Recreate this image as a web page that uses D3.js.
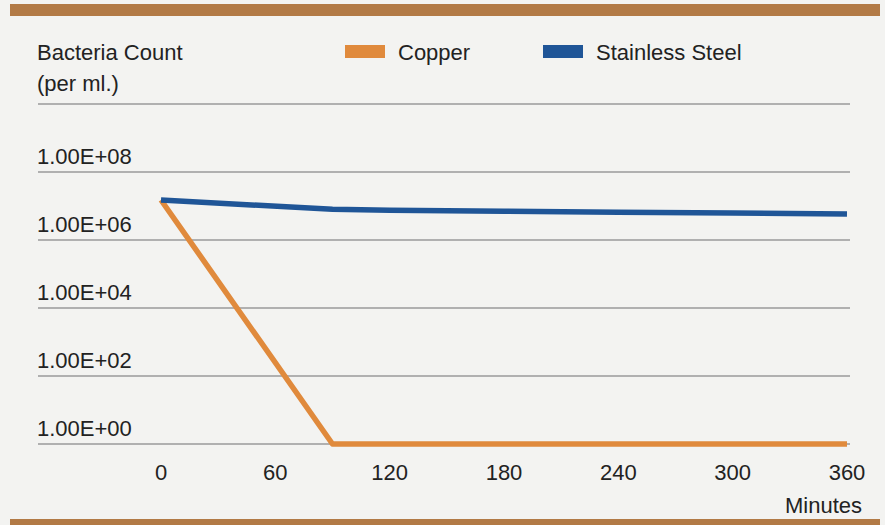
<!DOCTYPE html>
<html lang="en">
<head>
    <meta charset="UTF-8">
    <title>Bacteria Count: Copper vs Stainless Steel</title>
    <script src="https://d3js.org/d3.v7.min.js"></script>
    <style>
        body { margin: 0; background: #f3f3f1; }
        svg { display: block; }
        text { font-family: "Liberation Sans", Arial, sans-serif; fill: #222; font-size: 22px; }
        .grid line { stroke: #9a9a9a; stroke-width: 1.3px; }
        .line { fill: none; stroke-width: 5.5px; stroke-linejoin: round; }
    </style>
</head>
<body>
<svg id="chart" width="885" height="525"></svg>
<script>
    // data
    const minutes = [0, 90, 120, 180, 240, 300, 360];
    const copper = [1.5e7, 1, 1, 1, 1, 1, 1];
    const stainless = [1.5e7, 8e6, 7.5e6, 7e6, 6.6e6, 6.2e6, 5.8e6];
    const xTicks = [0, 60, 120, 180, 240, 300, 360];
    const yTicks = [1e0, 1e2, 1e4, 1e6, 1e8, 1e10];
    const yTickLabels = ["1.00E+00", "1.00E+02", "1.00E+04", "1.00E+06", "1.00E+08", ""];
    const seriesNames = ["Copper", "Stainless Steel"];
    const seriesColors = ["#e08a3c", "#1f5597"];

    const svg = d3.select("#chart");

    // brown bars top and bottom
    svg.append("rect").attr("x", 10).attr("y", 4).attr("width", 870).attr("height", 12).attr("fill", "#b27a46");
    svg.append("rect").attr("x", 10).attr("y", 519).attr("width", 870).attr("height", 6).attr("fill", "#b27a46");

    const x = d3.scaleLinear().domain([0, 360]).range([161, 847]);
    const y = d3.scaleLog().domain([1, 1e10]).range([444, 104]);

    // gridlines
    const grid = svg.append("g").attr("class", "grid");
    grid.selectAll("line")
        .data(yTicks)
        .enter().append("line")
        .attr("x1", 38).attr("x2", 850)
        .attr("y1", d => y(d)).attr("y2", d => y(d));

    // y labels sit above their gridline
    svg.append("g").selectAll("text")
        .data(yTicks)
        .enter().append("text")
        .attr("x", 37)
        .attr("y", d => y(d) - 8)
        .text((d, i) => yTickLabels[i]);

    // x labels
    svg.append("g").selectAll("text")
        .data(xTicks)
        .enter().append("text")
        .attr("x", d => x(d))
        .attr("y", 480)
        .attr("text-anchor", "middle")
        .text(d => d);

    svg.append("text").attr("x", 862).attr("y", 513).attr("text-anchor", "end").text("Minutes");

    svg.append("text").attr("x", 37).attr("y", 60).text("Bacteria Count");
    svg.append("text").attr("x", 37).attr("y", 91).text("(per ml.)");

    // legend
    const legendX = [345, 543];
    seriesNames.forEach((name, i) => {
        svg.append("rect").attr("x", legendX[i]).attr("y", 45).attr("width", 40).attr("height", 13)
            .attr("fill", seriesColors[i]);
        svg.append("text").attr("x", legendX[i] + 53).attr("y", 60).text(name);
    });

    // lines
    const line = d3.line().x(d => x(d[0])).y(d => y(d[1]));
    [copper, stainless].forEach((vals, i) => {
        svg.append("path")
            .datum(minutes.map((m, j) => [m, vals[j]]))
            .attr("class", "line")
            .attr("stroke", seriesColors[i])
            .attr("d", line);
    });
</script>
</body>
</html>
